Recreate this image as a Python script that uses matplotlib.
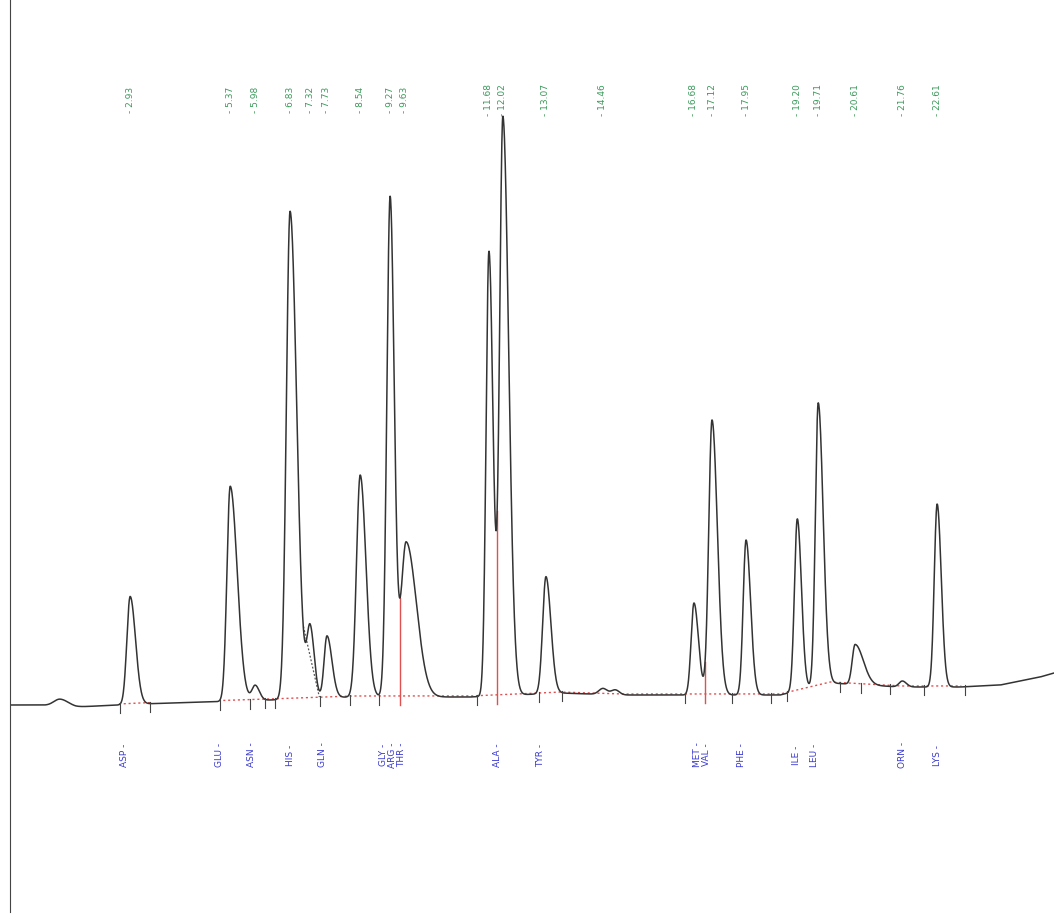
import numpy as np
import matplotlib
matplotlib.use("Agg")
import matplotlib.pyplot as plt

# peaks: retention time (min), height, left / right width (min)
peak_rt = [1.22, 2.93, 5.37, 5.98, 6.83, 7.32, 7.73, 8.54, 9.27, 9.66,
           11.68, 12.02, 13.07, 14.46, 14.76, 16.68, 17.12, 17.95, 19.20,
           19.71, 20.61, 21.76, 22.61]
peak_h = [7, 108, 215, 15, 488, 70, 62, 222, 500, 155,
          445, 578, 117, 6, 5, 92, 275, 155, 172,
          283, 40, 6, 183]
peak_sl = [0.15, 0.08, 0.08, 0.08, 0.09, 0.08, 0.07, 0.09, 0.08, 0.12,
           0.07, 0.08, 0.08, 0.10, 0.10, 0.07, 0.08, 0.07, 0.07,
           0.07, 0.07, 0.08, 0.07]
peak_sr = [0.20, 0.13, 0.17, 0.10, 0.16, 0.10, 0.12, 0.14, 0.10, 0.25,
           0.10, 0.14, 0.12, 0.10, 0.10, 0.11, 0.13, 0.11, 0.10,
           0.12, 0.20, 0.10, 0.10]

# baseline drift
base_t = [0.0, 0.73, 1.6, 3.17, 6.34, 8.29, 11.22, 13.41, 14.88, 16.34,
          18.78, 20.0, 21.71, 23.17, 24.15, 25.12, 25.46]
base_v = [0, 0, -2, 1, 5, 8, 8, 12, 10, 10,
          10, 22, 18, 18, 20, 28, 32]

# retention time labels (top, green)
rt_labels = ["2.93", "5.37", "5.98", "6.83", "7.32", "7.73", "8.54", "9.27",
             "9.63", "11.68", "12.02", "13.07", "14.46", "16.68", "17.12",
             "17.95", "19.20", "19.71", "20.61", "21.76", "22.61"]
rt_pos = [2.93, 5.37, 5.98, 6.83, 7.32, 7.73, 8.54, 9.27, 9.63, 11.68,
          12.02, 13.07, 14.46, 16.68, 17.12, 17.95, 19.20, 19.71, 20.61,
          21.76, 22.61]

# compound names (bottom, blue)
names = ["ASP", "GLU", "ASN", "HIS", "GLN", "GLY", "ARG", "THR", "ALA", "TYR",
         "MET", "VAL", "PHE", "ILE", "LEU", "ORN", "LYS"]
name_t = [2.80, 5.12, 5.90, 6.83, 7.61, 9.10, 9.32, 9.54, 11.88, 12.95,
          16.76, 16.98, 17.85, 19.17, 19.63, 21.76, 22.61]

# drop lines and integration ticks
drop_t = [9.51, 11.88, 16.95]
tick_t = [2.68, 3.41, 5.12, 5.85, 6.22, 6.46, 7.55, 8.29, 9.0, 11.4, 12.9,
          13.45, 16.45, 17.6, 18.55, 18.95, 20.25, 20.75, 21.45, 22.3, 23.3]

t = np.linspace(0, 25.46, 4000)
base = np.interp(t, base_t, base_v)
sig = base.copy()
for rt, h, sl, sr in zip(peak_rt, peak_h, peak_sl, peak_sr):
    s = np.where(t < rt, sl, sr)
    sig += h * np.exp(-0.5 * ((t - rt) / s) ** 2)

fig = plt.figure(figsize=(10.54, 9.16), dpi=100)
ax = fig.add_axes([10 / 1054, 4 / 916, 1 - 10 / 1054, 1 - 4 / 916])
ax.set_xlim(0, 25.46)
ax.set_ylim(-207, 705)

# red integration baseline
mask = (t > 5.2) & (t < 23.2)
ax.plot(t[mask], base[mask] + 1, color="#e05050", lw=1.0, ls=(0, (1.5, 2)))
mask = (t > 2.65) & (t < 3.45)
ax.plot(t[mask], base[mask] + 1, color="#e05050", lw=1.0, ls=(0, (1.5, 2)))
for d in drop_t:
    ax.plot([d, d], [np.interp(d, t, base) - 8, np.interp(d, t, sig)],
            color="#e05050", lw=1)

# skimmed tail under HIS
sk = (t > 7.15) & (t < 7.55)
skim = np.interp(t[sk], [7.15, 7.55], [np.interp(7.15, t, sig), np.interp(7.55, t, base)])
ax.plot(t[sk], skim, color="#555555", lw=0.9, ls=(0, (1.5, 1.5)))

ax.plot(t, sig, color="#333333", lw=1.1)

for tt in tick_t:
    b = np.interp(tt, t, base)
    ax.plot([tt, tt], [b - 8, b + 2], color="#444444", lw=0.8)

# top labels
for lab, rt in zip(rt_labels, rt_pos):
    ax.text(rt, 605, "- " + lab, rotation=90, ha="center", va="center",
            fontsize=6.5, color="#3a9a5a")

for n, nt in zip(names, name_t):
    ax.text(nt, -50, n + " -", rotation=90, ha="center", va="center",
            fontsize=6.5, color="#3a3ad0")

for s in ["top", "right", "bottom"]:
    ax.spines[s].set_visible(False)
ax.spines["left"].set_color("#444444")
ax.set_xticks([])
ax.set_yticks([])

fig.savefig("out.png", dpi=100)
